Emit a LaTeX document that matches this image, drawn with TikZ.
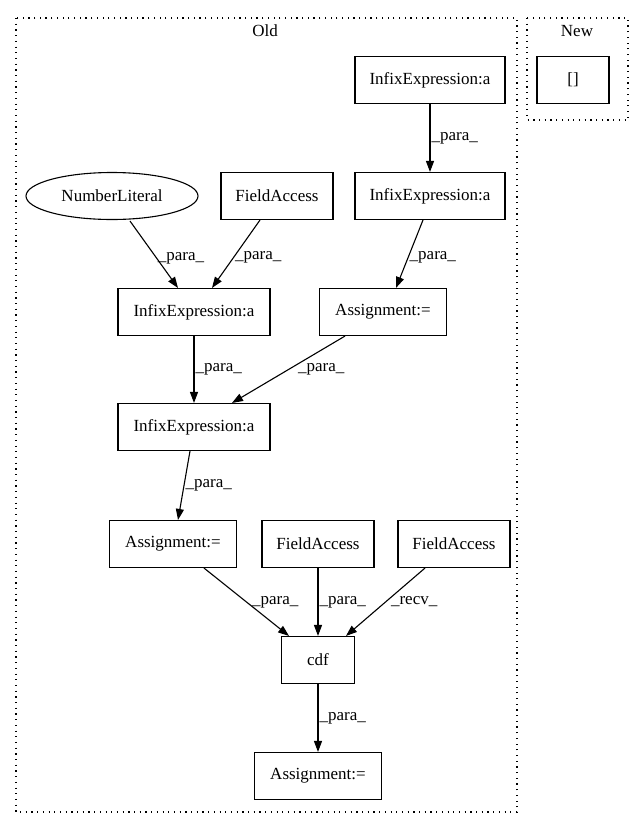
\documentclass[tikz,border=0pt]{standalone}
\usepackage{fontspec}
\setmainfont{Liberation Serif}
\usetikzlibrary{arrows.meta,shapes.geometric}
\begin{document}
\begin{tikzpicture}[x=1pt,y=-1pt,
  box/.style={draw,line width=1.1pt,minimum height=47pt,inner sep=0pt,font=\fontsize{17}{19}\selectfont},
  oval/.style={draw,ellipse,line width=1.1pt,minimum width=172pt,minimum height=47pt,inner sep=0pt,font=\fontsize{17}{19}\selectfont},
  edge/.style={line width=1.1pt,-{Triangle[length=11pt,width=8pt]}},
  lbl/.style={font=\fontsize{17}{19}\selectfont,inner sep=1pt},
  cluster/.style={line width=1.1pt,dash pattern=on 1.2pt off 4.5pt}]
\useasboundingbox (0,0) rectangle (636,828);
% clusters
\draw[cluster] (16,18) rectangle (517,812);
\node[lbl] (oldlbl) at (265,31) {Old};
\draw[cluster] (527,18) rectangle (628,120);
\node[lbl] (newlbl) at (577,31) {New};
\node[box,minimum width=72pt] (nb) at (573,80) {[]};
% nodes
\node[box,minimum width=150pt] (ie1) at (430,80) {InfixExpression:a};
\node[box,minimum width=150pt] (ie2) at (430,196) {InfixExpression:a};
\node[oval] (nl) at (112,196) {NumberLiteral};
\node[box,minimum width=112pt] (fa1) at (277,196) {FieldAccess};
\node[box,minimum width=152pt] (ie3) at (194,312) {InfixExpression:a};
\node[box,minimum width=127pt] (as1) at (383,312) {Assignment:=};
\node[box,minimum width=152pt] (ie4) at (194,427) {InfixExpression:a};
\node[box,minimum width=127pt] (as2) at (173,544) {Assignment:=};
\node[box,minimum width=112pt] (fa2) at (318,544) {FieldAccess};
\node[box,minimum width=112pt] (fa3) at (454,544) {FieldAccess};
\node[box,minimum width=73pt] (cdf) at (318,660) {cdf};
\node[box,minimum width=127pt] (as3) at (318,776) {Assignment:=};
% edges
\draw[edge] (ie1) -- (ie2) node[lbl,pos=0.5,right=0pt] {\_para\_};
\draw[edge] ([xshift=18pt,yshift=-1pt]nl.south) -- ([xshift=-16pt]ie3.north) node[lbl,pos=0.55,right=0pt] {\_para\_};
\draw[edge] ([xshift=-17pt]fa1.south) -- ([xshift=18pt]ie3.north) node[lbl,pos=0.55,right=0pt] {\_para\_};
\draw[edge] ([xshift=-7pt]ie2.south) -- ([xshift=13pt]as1.north) node[lbl,pos=0.55,right=0pt] {\_para\_};
\draw[edge] (ie3) -- (ie4) node[lbl,pos=0.5,right=0pt] {\_para\_};
\draw[edge] ([xshift=-38pt]as1.south) -- ([xshift=38pt]ie4.north) node[lbl,pos=0.5,right=8pt] {\_para\_};
\draw[edge] ([xshift=-4pt]ie4.south) -- ([xshift=5pt]as2.north) node[lbl,pos=0.5,right=0pt] {\_para\_};
\draw[edge] ([xshift=31pt]as2.south) -- ([xshift=-29pt]cdf.north) node[lbl,pos=0.5,right=4pt] {\_para\_};
\draw[edge] (fa2) -- (cdf) node[lbl,pos=0.5,right=0pt] {\_para\_};
\draw[edge] ([xshift=-29pt]fa3.south) -- ([xshift=28pt]cdf.north) node[lbl,pos=0.5,right=4pt] {\_recv\_};
\draw[edge] (cdf) -- (as3) node[lbl,pos=0.5,right=0pt] {\_para\_};
\end{tikzpicture}
\end{document}
